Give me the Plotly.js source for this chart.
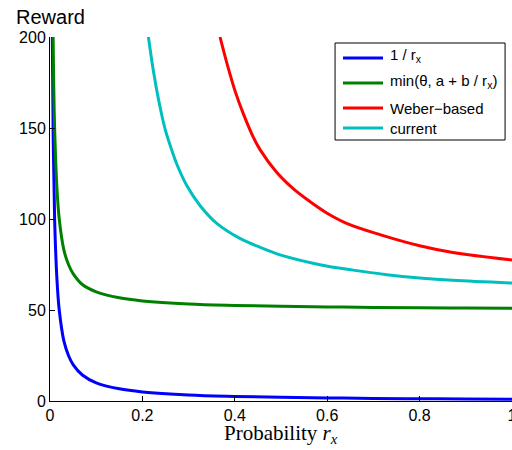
<!DOCTYPE html>
<html>
<head>
<meta charset="utf-8">
<script src="https://cdn.plot.ly/plotly-3.0.1.min.js"></script>
<style>html,body{margin:0;padding:0;background:#fff;}#chart{width:512px;height:450px;}</style>
</head>
<body>
<div id="chart"></div>
<script>
// Values
const blueX = [0.005, 0.007, 0.01, 0.015, 0.02, 0.03, 0.04, 0.05, 0.07, 0.1, 0.15, 0.2, 0.3, 0.4, 0.5, 0.6, 0.7, 0.8, 0.9, 1.0];
const blueY = [200, 143, 100, 67, 50, 33, 25, 20, 14.3, 10, 6.7, 5, 3.3, 2.5, 2, 1.7, 1.4, 1.25, 1.1, 1.0];

const greenX = [0.0067, 0.008, 0.01, 0.015, 0.02, 0.03, 0.04, 0.05, 0.07, 0.1, 0.15, 0.2, 0.3, 0.4, 0.5, 0.6, 0.7, 0.8, 0.9, 1.0];
const greenY = [200, 175, 150, 117, 100, 83, 75, 70, 64, 60, 56.7, 55, 53.3, 52.5, 52, 51.7, 51.4, 51.2, 51.1, 51.0];

const redX = [0.368, 0.383, 0.401, 0.419, 0.440, 0.455, 0.491, 0.527, 0.563, 0.599, 0.642, 0.714, 0.8, 0.872, 1.0];
const redY = [200, 185.5, 170.0, 157.5, 145.0, 138.0, 125.5, 116.5, 109.5, 103.3, 97.6, 91.4, 85.3, 81.6, 77.5];

const cyanX = [0.213, 0.224, 0.235, 0.249, 0.264, 0.275, 0.296, 0.325, 0.361, 0.412, 0.455, 0.498, 0.584, 0.656, 0.729, 0.8, 0.872, 1.0];
const cyanY = [200, 181.0, 165.5, 149.5, 137.5, 129.8, 118.4, 107.3, 97.6, 89.2, 84.4, 80.3, 74.9, 71.9, 69.4, 67.6, 66.3, 64.8];

const seriesNames = ["1 / r<sub>x</sub>", "min(θ, a + b / r<sub>x</sub>)", "Weber\u2212based", "current"];
const seriesColors = ["#0000ff", "#008000", "#ff0000", "#00bfbf"];

const xTicks = [0, 0.2, 0.4, 0.6, 0.8, 1];
const xTickText = ["0", "0.2", "0.4", "0.6", "0.8", "1"];
const yTicks = [0, 50, 100, 150, 200];
const yTickText = ["0", "50", "100", "150", "200"];

const xTitle = 'Probability <i>r</i><sub><i>x</i></sub>';
const yTitle = 'Reward';

const xs = [blueX, greenX, redX, cyanX];
const ys = [blueY, greenY, redY, cyanY];

const traces = xs.map((x, i) => ({
  x: x, y: ys[i], type: 'scatter', mode: 'lines',
  name: seriesNames[i],
  line: {color: seriesColors[i], width: 3, shape: 'spline', smoothing: 1.0},
  cliponaxis: true
}));

// Hand-drawn legend box (paper coordinates)
const legBox = {x0: 0.617, x1: 0.985, y0: 0.717, y1: 0.9835};
const legLineX = [0.6342, 0.7208];
const legLineY = [0.9423, 0.8736, 0.8049, 0.75];
const legTextX = 0.7316;
const legTextY = [0.9505, 0.8764, 0.8049, 0.75];

const shapes = [{
  type: 'rect', xref: 'paper', yref: 'paper',
  x0: legBox.x0, x1: legBox.x1, y0: legBox.y0, y1: legBox.y1,
  line: {color: '#000', width: 1}, fillcolor: '#fff', layer: 'above'
}];
const annotations = [{
  text: yTitle, xref: 'paper', yref: 'paper', x: 0, y: 1, xanchor: 'center', yanchor: 'bottom',
  yshift: 7, showarrow: false,
  font: {family: 'Liberation Sans, Arial, sans-serif', size: 20, color: '#000'}
}, {
  text: xTitle, xref: 'paper', yref: 'paper', x: 0.5, y: 0, xanchor: 'center', yanchor: 'bottom',
  yshift: -48, showarrow: false,
  font: {family: 'Liberation Serif, Times New Roman, serif', size: 21, color: '#000'}
}];
seriesNames.forEach((nm, i) => {
  shapes.push({
    type: 'line', xref: 'paper', yref: 'paper',
    x0: legLineX[0], x1: legLineX[1], y0: legLineY[i], y1: legLineY[i],
    line: {color: seriesColors[i], width: 3}, layer: 'above'
  });
  annotations.push({
    text: nm, xref: 'paper', yref: 'paper', x: legTextX, y: legTextY[i],
    xanchor: 'left', yanchor: 'middle', showarrow: false,
    font: {family: 'Liberation Sans, Arial, sans-serif', size: 15, color: '#000'}
  });
});

const layout = {
  width: 512, height: 450,
  margin: {l: 50, r: 0, t: 37, b: 49},
  paper_bgcolor: '#fff', plot_bgcolor: '#fff',
  font: {family: 'Liberation Sans, Arial, sans-serif', size: 16, color: '#000'},
  showlegend: false,
  xaxis: {
    range: [0, 1], tickvals: xTicks, ticktext: xTickText,
    ticks: 'inside', ticklen: 5, tickcolor: '#000', tickwidth: 1,
    showline: true, linecolor: '#000', linewidth: 1, mirror: false,
    showgrid: false, zeroline: false, ticklabeloverflow: 'allow',
    tickfont: {size: 16}
  },
  yaxis: {
    range: [0, 200], tickvals: yTicks, ticktext: yTickText,
    ticks: 'inside', ticklen: 5, tickcolor: '#000', tickwidth: 1,
    showline: true, linecolor: '#000', linewidth: 1, mirror: false,
    showgrid: false, zeroline: false, ticklabeloverflow: 'allow',
    tickfont: {size: 16}
  },
  shapes: shapes,
  annotations: annotations
};

Plotly.newPlot('chart', traces, layout, {displayModeBar: false, staticPlot: true});
</script>
</body>
</html>
